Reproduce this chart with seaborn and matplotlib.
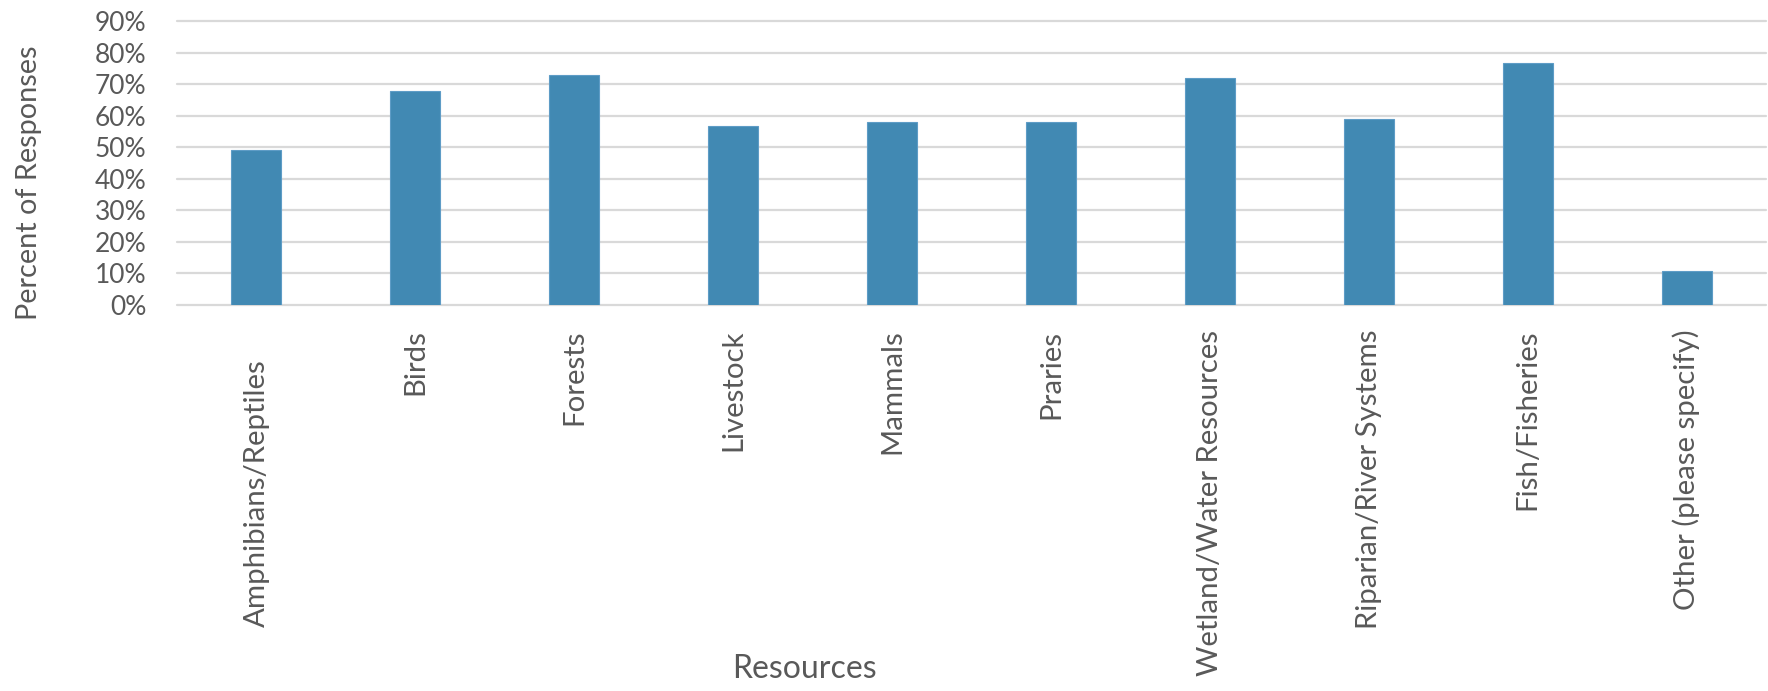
import matplotlib
matplotlib.use("Agg")
import matplotlib.pyplot as plt
import matplotlib.transforms as mtransforms
from matplotlib.ticker import FuncFormatter
import seaborn as sns

# data
categories = ["Amphibians/Reptiles", "Birds", "Forests", "Livestock", "Mammals",
              "Praries", "Wetland/Water Resources", "Riparian/River Systems",
              "Fish/Fisheries", "Other (please specify)"]
values = [49.0, 67.7, 72.9, 56.7, 57.9, 57.9, 71.9, 58.8, 76.8, 10.5]
yticks = [0, 10, 20, 30, 40, 50, 60, 70, 80, 90]

sns.set_style("white")
plt.rcParams["font.family"] = ["Lato", "DejaVu Sans"]
text_col = "#595959"

fig = plt.figure(figsize=(17.68, 6.91), dpi=100)
ax = fig.add_axes([0.1001, 0.5593, 0.8988, 0.4103])

sns.barplot(x=categories, y=values, color="#4189B3", saturation=1, width=0.315,
            edgecolor="#5E9CC6", linewidth=0.8, ax=ax)

ax.set_ylim(0, 90)
ax.set_yticks(yticks)
ax.yaxis.set_major_formatter(FuncFormatter(lambda v, p: f"{v:.0f}%"))
ax.set_axisbelow(True)
ax.yaxis.grid(True, color="#D9D9D9", linewidth=1.6)
for gl in ax.get_ygridlines():
    gl.set_clip_on(False)
sns.despine(ax=ax, left=True, bottom=True)

ax.tick_params(axis="y", length=0, pad=22, labelsize=19, labelcolor=text_col)
ax.tick_params(axis="x", length=0, pad=18, labelsize=21.2, labelcolor=text_col)
plt.setp(ax.get_xticklabels(), rotation=90, ha="center", va="top")

# first label sits a bit lower in the original
lbl = ax.get_xticklabels()[0]
lbl.set_transform(lbl.get_transform() + mtransforms.ScaledTranslation(0, -0.3, fig.dpi_scale_trans))

ax.set_xlabel("Resources", fontsize=23, color=text_col, va="center")
ax.xaxis.set_label_coords(0.395, -1.286)
ax.set_ylabel("Percent of Responses", fontsize=20.8, color=text_col)
ax.yaxis.set_label_coords(-0.085, 0.43)

fig.savefig("out.png", dpi=100)
